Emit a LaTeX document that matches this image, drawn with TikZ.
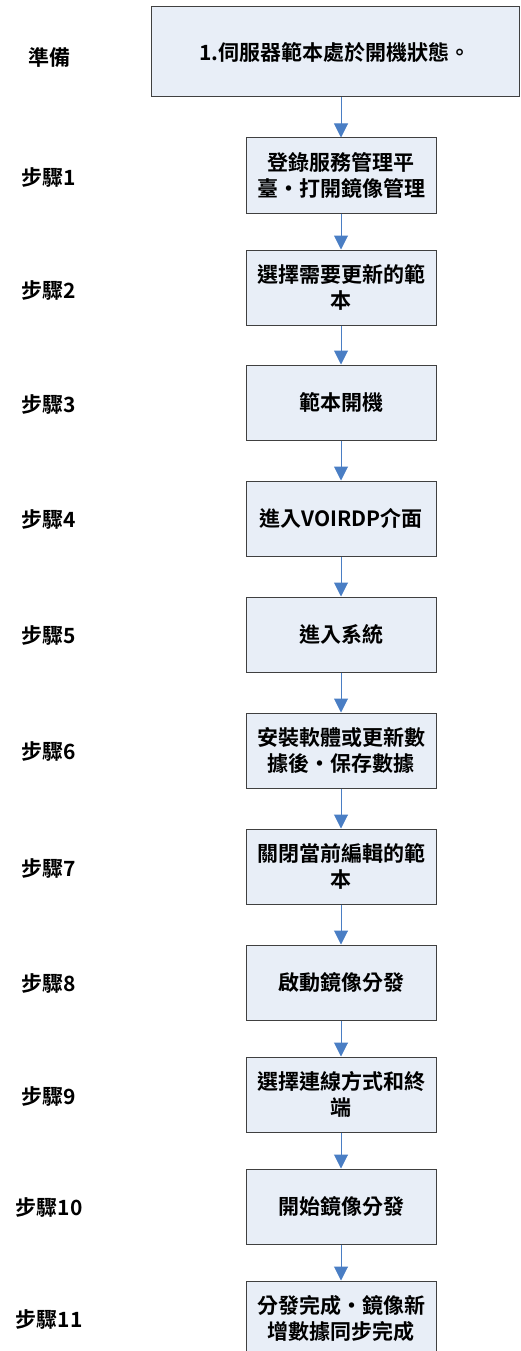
\documentclass[tikz,border=0pt]{standalone}
\usepackage{fontspec}
\setmainfont{Noto Sans CJK TC}[BoldFont={Noto Sans CJK TC Bold}]
\usetikzlibrary{arrows.meta}
\definecolor{boxfill}{RGB}{232,238,247}
\definecolor{boxline}{RGB}{64,64,64}
\definecolor{arrowblue}{RGB}{74,126,196}
\newcommand{\widedot}{\makebox[1em]{·}}
\tikzset{
  stepbox/.style={draw=boxline, line width=1pt, fill=boxfill, minimum width=190pt,
    minimum height=75pt, inner sep=0pt, align=center,
    font=\fontsize{21}{26}\selectfont\bfseries},
  topbox/.style={stepbox, minimum width=368pt, minimum height=90pt},
  steplabel/.style={font=\fontsize{21}{26}\selectfont\bfseries},
  flow/.style={draw=arrowblue, line width=1pt, -{Triangle[length=14pt,width=14pt]}}
}
\begin{document}
\begin{tikzpicture}[x=1pt,y=-1pt]
\useasboundingbox (0,0) rectangle (520,1351);
\node[topbox] (prep) at (335,52) {1.伺服器範本處於開機狀態。};
\node[stepbox] (s1) at (341,175.5) {登錄服務管理平\\臺\widedot 打開鏡像管理};
\node[stepbox] (s2) at (341,287.5) {選擇需要更新的範\\本};
\node[stepbox] (s3) at (341,402.5) {範本開機};
\node[stepbox] (s4) at (341,518.5) {進入VOIRDP介面};
\node[stepbox] (s5) at (341,634.5) {進入系統};
\node[stepbox] (s6) at (341,750.5) {安裝軟體或更新數\\據後\widedot 保存數據};
\node[stepbox] (s7) at (341,866.5) {關閉當前編輯的範\\本};
\node[stepbox] (s8) at (341,982.5) {啟動鏡像分發};
\node[stepbox] (s9) at (341,1094.5) {選擇連線方式和終\\端};
\node[stepbox] (s10) at (341,1206.5) {開始鏡像分發};
\node[stepbox] (s11) at (341,1318.5) {分發完成\widedot 鏡像新\\增數據同步完成};

\node[steplabel] (lp) at (49,58) {準備};
\node[steplabel] (l1) at (49,177) {步驟1};
\node[steplabel] (l2) at (49,290) {步驟2};
\node[steplabel] (l3) at (49,404) {步驟3};
\node[steplabel] (l4) at (49,519) {步驟4};
\node[steplabel] (l5) at (49,635) {步驟5};
\node[steplabel] (l6) at (49,751) {步驟6};
\node[steplabel] (l7) at (49,868) {步驟7};
\node[steplabel] (l8) at (49,983) {步驟8};
\node[steplabel] (l9) at (49,1096) {步驟9};
\node[steplabel] (l10) at (49,1207) {步驟10};
\node[steplabel] (l11) at (49,1319) {步驟11};

\draw[flow] (prep.south -| s1) -- (s1.north);
\draw[flow] (s1) -- (s2);
\draw[flow] (s2) -- (s3);
\draw[flow] (s3) -- (s4);
\draw[flow] (s4) -- (s5);
\draw[flow] (s5) -- (s6);
\draw[flow] (s6) -- (s7);
\draw[flow] (s7) -- (s8);
\draw[flow] (s8) -- (s9);
\draw[flow] (s9) -- (s10);
\draw[flow] (s10) -- (s11);
\end{tikzpicture}
\end{document}
